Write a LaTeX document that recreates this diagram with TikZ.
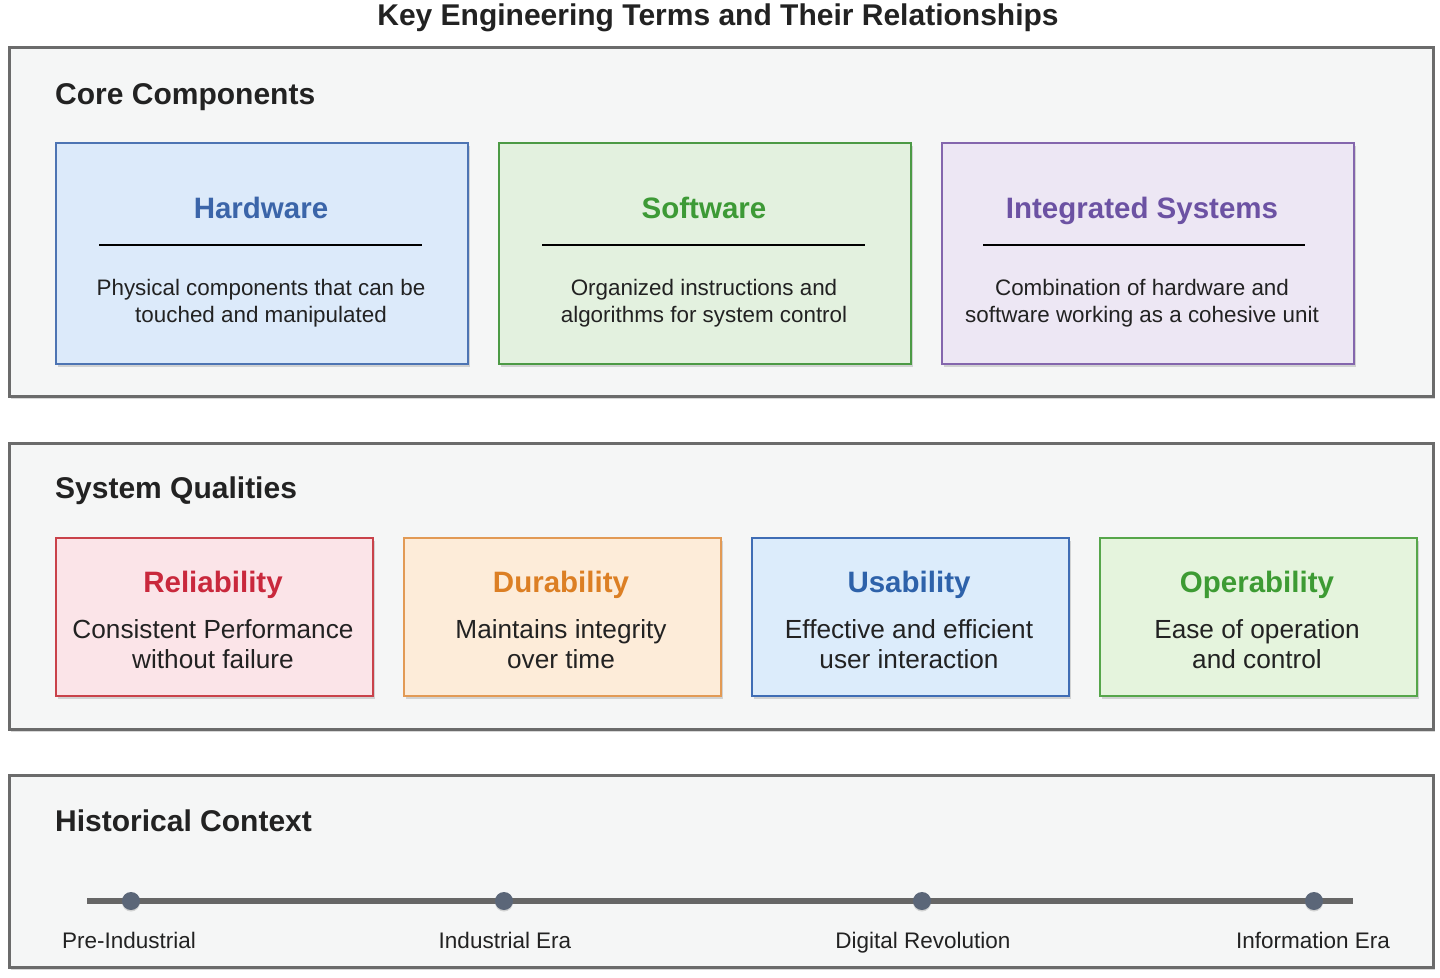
\documentclass[tikz,border=0pt]{standalone}
\usepackage{fontspec}
\setmainfont{Liberation Sans}
\usetikzlibrary{shadows}

\definecolor{panelfill}{HTML}{F5F6F6}
\definecolor{panelborder}{HTML}{6B6B6B}
\definecolor{bodytext}{HTML}{222222}
\definecolor{hwfill}{HTML}{DCEAFA}\definecolor{hwdraw}{HTML}{4D74B3}\definecolor{hwtitle}{HTML}{3B65A9}
\definecolor{swfill}{HTML}{E3F1DF}\definecolor{swdraw}{HTML}{4C9A45}\definecolor{swtitle}{HTML}{3D9A36}
\definecolor{isfill}{HTML}{EDE7F4}\definecolor{isdraw}{HTML}{8466AD}\definecolor{istitle}{HTML}{6C52A3}
\definecolor{relfill}{HTML}{FBE4E8}\definecolor{reldraw}{HTML}{C9424A}\definecolor{reltitle}{HTML}{C9283C}
\definecolor{durfill}{HTML}{FDECD9}\definecolor{durdraw}{HTML}{E29A55}\definecolor{durtitle}{HTML}{DC7F24}
\definecolor{usefill}{HTML}{DCECFB}\definecolor{usedraw}{HTML}{3F6DB5}\definecolor{usetitle}{HTML}{2E62AA}
\definecolor{opfill}{HTML}{E5F4DD}\definecolor{opdraw}{HTML}{56A64A}\definecolor{optitle}{HTML}{3D9B33}
\definecolor{dotcol}{HTML}{5B6678}
\definecolor{linecol}{HTML}{666666}

\newcommand\fsz[2]{\fontsize{#1}{#2}\selectfont}

\tikzset{
  panel/.style={rectangle, draw=panelborder, line width=3pt, fill=panelfill, anchor=north west, inner sep=0pt,
    drop shadow={shadow xshift=1.5pt, shadow yshift=-2.5pt, opacity=0.3}},
  bigcard/.style={rectangle, line width=2pt, anchor=north west, inner sep=0pt,
    minimum width=412pt, minimum height=221pt,
    drop shadow={shadow xshift=1.5pt, shadow yshift=-3pt, opacity=0.3}},
  smallcard/.style={rectangle, line width=2pt, anchor=north west, inner sep=0pt,
    minimum width=317pt, minimum height=158pt,
    drop shadow={shadow xshift=1.5pt, shadow yshift=-3pt, opacity=0.3}},
  maintitle/.style={anchor=base, inner sep=0pt, text=bodytext, font=\fsz{30}{36}\bfseries},
  sectitle/.style={anchor=base west, inner sep=0pt, text=bodytext, font=\fsz{30}{36}\bfseries},
  cardtitle/.style={anchor=base, inner sep=0pt, font=\fsz{29.5}{35}\bfseries},
  bigdesc/.style={anchor=center, inner sep=0pt, align=center, text=bodytext, font=\fsz{22.4}{27}},
  smalldesc/.style={anchor=center, inner sep=0pt, align=center, text=bodytext, font=\fsz{26.2}{30}},
  rule/.style={line width=1.5pt, black},
  timeline/.style={line width=6pt, linecol},
  dot/.style={circle, fill=dotcol, inner sep=0pt, minimum size=18pt,
    drop shadow={shadow xshift=0pt, shadow yshift=-1.5pt, opacity=0.3}},
  eralabel/.style={anchor=base, inner sep=0pt, text=bodytext, font=\fsz{22.5}{27}},
}

\begin{document}
\begin{tikzpicture}[x=1pt, y=-1pt]
\useasboundingbox[fill=white] (0,0) rectangle (1440,977);

% Title
\node[maintitle] (title) at (718,25) {Key Engineering Terms and Their Relationships};

% ---------- Panel 1 ----------
\node[panel, minimum width=1424pt, minimum height=349pt] (p1) at (8,46) {};
\node[sectitle] (p1t) at (55,104) {Core Components};

\node[bigcard, fill=hwfill, draw=hwdraw] (hw) at (55,142) {};
\node[cardtitle, text=hwtitle] (hwt) at (261,218) {Hardware};
\coordinate (hwl1) at (99,245); \coordinate (hwl2) at (422,245);
\draw[rule] (hwl1) -- (hwl2);
\node[bigdesc] (hwd) at (261,303) {Physical components that can be\\touched and manipulated};

\node[bigcard, fill=swfill, draw=swdraw] (sw) at (498,142) {};
\node[cardtitle, text=swtitle] (swt) at (704,218) {Software};
\coordinate (swl1) at (542,245); \coordinate (swl2) at (865,245);
\draw[rule] (swl1) -- (swl2);
\node[bigdesc] (swd) at (704,303) {Organized instructions and\\algorithms for system control};

\node[bigcard, fill=isfill, draw=isdraw] (is) at (941,142) {};
\node[cardtitle, text=istitle] (ist) at (1142,218) {Integrated Systems};
\coordinate (isl1) at (983,245); \coordinate (isl2) at (1305,245);
\draw[rule] (isl1) -- (isl2);
\node[bigdesc] (isd) at (1142,303) {Combination of hardware and\\software working as a cohesive unit};

% ---------- Panel 2 ----------
\node[panel, minimum width=1424pt, minimum height=286pt] (p2) at (8,442) {};
\node[sectitle] (p2t) at (55,498) {System Qualities};

\node[smallcard, fill=relfill, draw=reldraw] (rel) at (55,537) {};
\node[cardtitle, text=reltitle] (relt) at (213,592) {Reliability};
\node[smalldesc] (reld) at (213,644) {Consistent Performance\\without failure};

\node[smallcard, fill=durfill, draw=durdraw] (dur) at (403,537) {};
\node[cardtitle, text=durtitle] (durt) at (561,592) {Durability};
\node[smalldesc] (durd) at (561,644) {Maintains integrity\\over time};

\node[smallcard, fill=usefill, draw=usedraw] (use) at (751,537) {};
\node[cardtitle, text=usetitle] (uset) at (909,592) {Usability};
\node[smalldesc] (used) at (909,644) {Effective and efficient\\user interaction};

\node[smallcard, fill=opfill, draw=opdraw] (op) at (1099,537) {};
\node[cardtitle, text=optitle] (opt) at (1257,592) {Operability};
\node[smalldesc] (opd) at (1257,644) {Ease of operation\\and control};

% ---------- Panel 3 ----------
\node[panel, minimum width=1424pt, minimum height=192pt] (p3) at (8,774) {};
\node[sectitle] (p3t) at (55,831) {Historical Context};

\coordinate (tl1) at (87,901); \coordinate (tl2) at (1353,901);
\draw[timeline] (tl1) -- (tl2);

\node[dot] (d1) at (131,901) {};
\node[dot] (d2) at (504,901) {};
\node[dot] (d3) at (922,901) {};
\node[dot] (d4) at (1314,901) {};

\node[eralabel] (e1) at (129,948) {Pre-Industrial};
\node[eralabel] (e2) at (505,948) {Industrial Era};
\node[eralabel] (e3) at (923,948) {Digital Revolution};
\node[eralabel] (e4) at (1313,948) {Information Era};
\end{tikzpicture}
\end{document}
